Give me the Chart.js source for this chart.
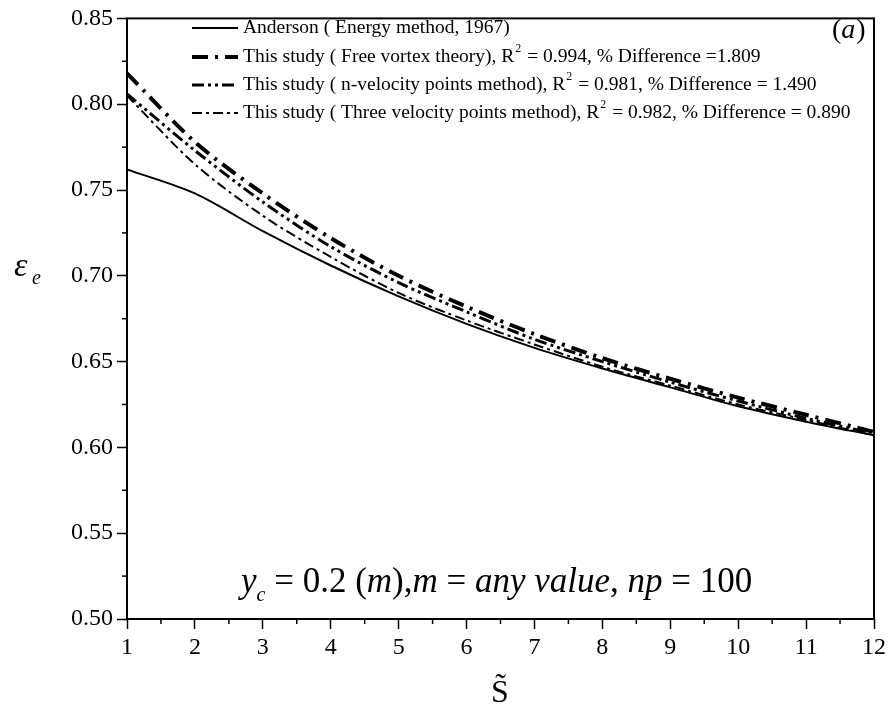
<!DOCTYPE html>
<html>
<head>
<meta charset="UTF-8">
<title>Efficiency vs S</title>
<script src="https://cdn.jsdelivr.net/npm/chart.js"></script>
<style>
  body { margin: 0; background: #fff; }
  #wrap { width: 893px; height: 722px; }
</style>
</head>
<body>
<div id="wrap"><canvas id="myChart" width="893" height="722"></canvas></div>
<script>
// values
const sValues = [1, 2, 3, 4, 5, 6, 7, 8, 9, 10, 11, 12];
const anderson = [0.762, 0.748, 0.726, 0.706, 0.688, 0.672, 0.658, 0.646, 0.635, 0.624, 0.615, 0.607];
const freeVortex = [0.818, 0.778, 0.748, 0.722, 0.700, 0.682, 0.666, 0.652, 0.640, 0.629, 0.619, 0.609];
const nVelocity = [0.806, 0.773, 0.743, 0.717, 0.696, 0.679, 0.663, 0.650, 0.638, 0.627, 0.617, 0.608];
const threeVelocity = [0.805, 0.765, 0.735, 0.711, 0.690, 0.674, 0.660, 0.647, 0.636, 0.625, 0.616, 0.607];
const yTicks = [0.50, 0.55, 0.60, 0.65, 0.70, 0.75, 0.80, 0.85];
const xTicks = [1, 2, 3, 4, 5, 6, 7, 8, 9, 10, 11, 12];

const labels = [
  ['Anderson ( Energy method, 1967)'],
  ['This study ( Free vortex theory), R', '2', ' = 0.994, % Difference =1.809'],
  ['This study ( n-velocity points method), R', '2', ' = 0.981, % Difference = 1.490'],
  ['This study ( Three velocity points method), R', '2', ' = 0.982, % Difference = 0.890']
];

const serif = '"Liberation Serif", "DejaVu Serif", serif';

function toPoints(arr) {
  return sValues.map((s, i) => ({ x: s, y: arr[i] }));
}

const datasets = [
  { data: toPoints(anderson), borderWidth: 2, borderDash: [] },
  { data: toPoints(freeVortex), borderWidth: 4, borderDash: [16, 7, 3, 7] },
  { data: toPoints(nVelocity), borderWidth: 3, borderDash: [12, 4, 3, 4, 3, 4] },
  { data: toPoints(threeVelocity), borderWidth: 2, borderDash: [10, 4, 3, 4] }
].map((d, i) => Object.assign(d, {
  label: labels[i].join(''),
  borderColor: '#000',
  backgroundColor: '#000',
  pointRadius: 0,
  tension: 0.3,
  fill: false
}));

// frame, minor ticks, legend and text annotations
const decorations = {
  id: 'decorations',
  afterDraw(chart) {
    const ctx = chart.ctx;
    const a = chart.chartArea;
    const xs = chart.scales.x, ys = chart.scales.y;
    ctx.save();
    ctx.strokeStyle = '#000';
    ctx.lineWidth = 2;
    ctx.strokeRect(a.left, a.top, a.right - a.left, a.bottom - a.top);

    // minor ticks
    ctx.lineWidth = 1.5;
    for (let v = 0.525; v < 0.85; v += 0.05) {
      const py = ys.getPixelForValue(v);
      ctx.beginPath(); ctx.moveTo(a.left - 5, py); ctx.lineTo(a.left, py); ctx.stroke();
    }
    for (let v = 1.5; v < 12; v += 1) {
      const px = xs.getPixelForValue(v);
      ctx.beginPath(); ctx.moveTo(px, a.bottom); ctx.lineTo(px, a.bottom + 5); ctx.stroke();
    }

    // legend
    const rowY = [28, 57, 85, 113];
    chart.data.datasets.forEach((ds, i) => {
      const y = rowY[i];
      ctx.lineWidth = ds.borderWidth;
      ctx.setLineDash(ds.borderDash);
      ctx.beginPath(); ctx.moveTo(192, y); ctx.lineTo(238, y); ctx.stroke();
      ctx.setLineDash([]);
      ctx.fillStyle = '#000';
      ctx.textBaseline = 'middle';
      let x = 243;
      labels[i].forEach((part, k) => {
        if (k === 1) {
          ctx.font = '12px ' + serif;
          ctx.fillText(part, x + 1, y - 8);
          x += ctx.measureText(part).width + 2;
        } else {
          ctx.font = '19.5px ' + serif;
          ctx.fillText(part, x, y);
          x += ctx.measureText(part).width;
        }
      });
    });

    // (a)
    ctx.textBaseline = 'alphabetic';
    ctx.font = '28px ' + serif;
    let x = 832;
    ctx.fillText('(', x, 38); x += ctx.measureText('(').width;
    ctx.font = 'italic 28px ' + serif;
    ctx.fillText('a', x, 38); x += ctx.measureText('a').width + 1;
    ctx.font = '28px ' + serif;
    ctx.fillText(')', x, 38);

    // annotation
    const parts = [
      ['i', 'y'], ['sub', 'c'], ['r', ' = 0.2 ('], ['i', 'm'], ['r', '),'], ['i', 'm'],
      ['r', ' = '], ['i', 'any value'], ['r', ', '], ['i', 'np'], ['r', ' = 100']
    ];
    x = 241;
    const by = 592;
    parts.forEach(([t, s]) => {
      if (t === 'sub') {
        ctx.font = 'italic 20px ' + serif;
        ctx.fillText(s, x, by + 9);
      } else {
        ctx.font = (t === 'i' ? 'italic ' : '') + '35px ' + serif;
        ctx.fillText(s, x, by);
      }
      x += ctx.measureText(s).width;
    });

    // y title
    ctx.font = 'italic 34px ' + serif;
    ctx.fillText('\u03b5', 14, 276);
    ctx.font = 'italic 20px ' + serif;
    ctx.fillText('e', 32, 284);

    // x title
    ctx.font = '32px ' + serif;
    ctx.textAlign = 'center';
    ctx.fillText('S\u0303', 500, 702);
    ctx.restore();
  }
};

new Chart(document.getElementById('myChart'), {
  type: 'line',
  data: { datasets: datasets },
  options: {
    responsive: false,
    animation: false,
    layout: { padding: { top: 17, right: 19, left: 0, bottom: 0 } },
    plugins: { legend: { display: false }, tooltip: { enabled: false } },
    scales: {
      x: {
        type: 'linear',
        min: 1, max: 12,
        afterFit: s => { s.height = 103; },
        afterBuildTicks: s => { s.ticks = xTicks.map(v => ({ value: v })); },
        grid: { drawOnChartArea: false, color: '#000', tickLength: 10, tickWidth: 1.5 },
        border: { display: false },
        ticks: { color: '#000', font: { family: serif, size: 24 }, padding: 4, maxRotation: 0 }
      },
      y: {
        min: 0.5, max: 0.85,
        afterFit: s => { s.width = 127; },
        afterBuildTicks: s => { s.ticks = yTicks.map(v => ({ value: v })); },
        grid: { drawOnChartArea: false, color: '#000', tickLength: 10, tickWidth: 1.5 },
        border: { display: false },
        ticks: { color: '#000', font: { family: serif, size: 24 }, padding: 4, callback: v => v.toFixed(2) }
      }
    }
  },
  plugins: [decorations]
});
</script>
</body>
</html>
